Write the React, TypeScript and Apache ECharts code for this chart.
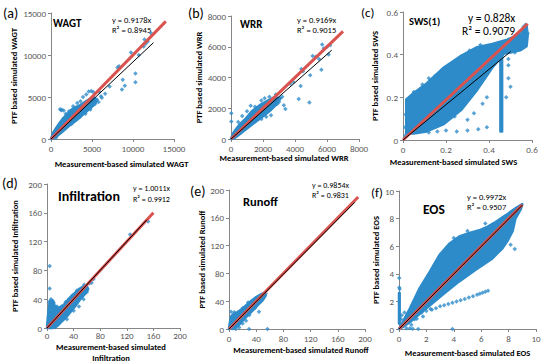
import React, { useEffect, useRef } from "react";
import * as echarts from "echarts";

// ---------- DATA ----------
const panelLetters = ["(a)", "(b)", "(c)", "(d)", "(e)", "(f)"];
const panelTitles = ["WAGT", "WRR", "SWS(1)", "Infiltration", "Runoff", "EOS"];
const eqTexts = ["y = 0.9178x", "y = 0.9169x", "y = 0.828x", "y = 1.0011x", "y = 0.9854x", "y = 0.9972x"];
const r2Texts = ["R² = 0.8945", "R² = 0.9015", "R² = 0.9079", "R² = 0.9912", "R² = 0.9831", "R² = 0.9507"];
const xNames = [
  "Measurement-based simulated WAGT",
  "Measurement-based simulated WRR",
  "Measurement-based simulated SWS",
  "Measurement-based simulated\nInfiltration",
  "Measurement-based simulated Runoff",
  "Measurement-based simulated EOS",
];
const yNames = [
  "PTF based simulated WAGT",
  "PTF based simulated WRR",
  "PTF based simulated SWS",
  "PTF based simulated Infiltration",
  "PTF based simulated Runoff",
  "PTF based simulated EOS",
];
const axisMax = [15000, 8000, 0.6, 200, 200, 10];
const axisInterval = [5000, 2000, 0.2, 40, 40, 2];

// 1:1 (red) and fitted (black) lines, end points
const redLines = [
  [[0, 0], [14000, 14000]],
  [[0, 0], [7000, 7000]],
  [[0, 0], [0.58, 0.545]],
  [[0, 0], [160, 160]],
  [[0, 0], [190, 190]],
  [[0, 0], [9, 9]],
];
const blackLines = [
  [[0, 0], [12500, 11470]],
  [[0, 0], [6300, 5780]],
  [[0, 0], [0.5, 0.414]],
  [[0, 0], [150, 150.2]],
  [[0, 0], [185, 182.3]],
  [[0, 0], [9, 8.97]],
];

// dense point clouds, outlined
const wagtCloud = [[0, 0], [300, 800], [900, 1700], [1500, 2500], [2000, 3000], [2500, 3500], [3000, 3800], [3500, 4000], [4000, 4300], [4600, 4700], [5200, 5000], [5600, 4600], [5200, 4000], [4600, 3500], [4000, 3000], [3200, 2300], [2500, 1800], [1800, 1200], [1200, 700], [600, 250]];
const wrrCloud = [[0, 0], [150, 400], [500, 900], [900, 1300], [1300, 1800], [1800, 2200], [2300, 2500], [2700, 2700], [3100, 2650], [2800, 2200], [2400, 1800], [1900, 1400], [1400, 1000], [900, 600], [400, 200], [150, 20]];
const swsCloud = [[0.015, 0.03], [0.015, 0.19], [0.05, 0.22], [0.11, 0.265], [0.19, 0.34], [0.27, 0.395], [0.345, 0.435], [0.415, 0.45], [0.485, 0.47], [0.55, 0.5], [0.575, 0.535], [0.58, 0.49], [0.575, 0.44], [0.545, 0.42], [0.5, 0.41], [0.47, 0.405], [0.42, 0.345], [0.345, 0.235], [0.27, 0.14], [0.19, 0.075], [0.11, 0.04], [0.05, 0.03]];
const swsStrip = [[0.453, 0.39], [0.453, 0.04], [0.461, 0.04], [0.461, 0.4]];
const infCloud = [[0, 0], [1, 12], [3, 30], [5, 38], [9, 38], [12, 30], [18, 28], [25, 32], [32, 40], [40, 47], [48, 54], [55, 58], [60, 58], [62, 54], [58, 48], [50, 40], [42, 30], [35, 22], [28, 14], [20, 7], [14, 2], [8, 0]];
const runCloud = [[0, 0], [1, 8], [3, 18], [7, 22], [12, 24], [18, 28], [25, 34], [32, 40], [40, 46], [47, 50], [52, 52], [54, 48], [50, 42], [43, 35], [36, 28], [28, 20], [20, 12], [14, 5], [8, 1]];
const eosCloud = [[0, 0], [0.3, 0.55], [0.8, 1.5], [1.5, 2.95], [2.25, 4.15], [2.95, 5.35], [3.7, 6.2], [4.4, 6.7], [5.1, 6.95], [5.85, 7.15], [6.45, 7.4], [7.05, 7.75], [7.8, 8.25], [8.5, 8.75], [9, 9.05], [8.9, 8.7], [8.5, 8.0], [8.3, 7.1], [7.9, 6.35], [7.55, 5.85], [6.8, 5.1], [5.6, 4.3], [4.4, 3.45], [3.2, 2.5], [2.0, 1.5], [0.8, 0.5], [0.3, 0.15]];
const eosColumn = [[0, 0.4], [0, 2.6], [0.05, 2.6], [0.05, 0.4]];

// scattered points
const wagtPts = [[1100, 3550], [1300, 3480], [1550, 3380], [1250, 3420], [4600, 5650], [4900, 5700], [5150, 5600], [4300, 5300], [3900, 5000], [9750, 10300], [10700, 10000], [11300, 11000], [11550, 11350], [11400, 11850], [12200, 12600], [11800, 11600], [8300, 8650], [8100, 8500], [10300, 7800], [10300, 6750], [8750, 7050], [9000, 6350], [8650, 5900], [7150, 6250], [6600, 5400], [6100, 5100], [5900, 5600], [5600, 4700], [6200, 4900], [5400, 4200], [5800, 4400], [500, 300], [800, 1300], [300, 600], [1800, 3000], [2200, 3300], [2700, 3900], [3200, 4300], [3600, 4500], [2500, 1800], [3500, 2600], [4200, 3000], [4800, 3500], [600, 150]];
const wrrPts = [[20, 1680], [20, 1140], [1230, 2160], [700, 1500], [450, 1100], [1000, 1800], [1500, 2100], [1900, 2500], [2100, 2650], [2400, 2750], [2800, 2900], [3050, 2650], [3200, 2750], [2900, 2300], [3000, 2400], [3400, 1950], [2500, 1550], [1500, 1200], [1900, 1300], [2200, 1450], [3300, 2200], [3700, 3600], [3900, 3700], [4400, 4550], [4350, 3450], [4230, 2600], [4900, 2370], [4950, 4150], [5650, 4500], [5100, 5400], [5300, 5350], [5700, 6150], [6000, 6000], [6200, 6100], [5800, 5900], [6100, 5500], [5500, 5200], [4500, 4400]];
const swsPts = [[0.12, 0.29], [0.15, 0.3], [0.18, 0.32], [0.09, 0.26], [0.05, 0.225], [0.27, 0.39], [0.31, 0.42], [0.36, 0.445], [0.22, 0.35], [0.25, 0.37], [0.04, 0.2], [0.24, 0.11], [0.3, 0.095], [0.33, 0.125], [0.37, 0.17], [0.39, 0.2], [0.2, 0.045], [0.25, 0.04], [0.3, 0.045], [0.35, 0.05], [0.39, 0.06], [0.12, 0.035], [0.16, 0.04], [0.49, 0.38], [0.49, 0.35], [0.49, 0.29], [0.5, 0.25], [0.48, 0.2], [0.52, 0.41], [0.55, 0.43], [0.57, 0.54], [0.58, 0.5], [0.56, 0.53], [0.01, 0.02], [0.01, 0.06], [0.012, 0.12]];
const infPts = [[4, 86], [4, 55], [6, 40], [3, 36], [8, 38], [10, 35], [125, 130], [152, 148], [67, 63], [70, 68], [64, 62], [56, 60], [45, 52], [38, 45], [28, 36], [22, 30], [15, 30], [30, 12], [40, 24], [48, 30], [55, 40], [60, 50], [5, 1], [12, 1], [16, 4], [2, 8]];
const runPts = [[29.5, 0], [56.5, 0], [44, 25], [35, 37], [47, 40], [54, 51], [50, 50], [5, 1], [10, 0], [15, 2], [3, 25], [8, 24], [20, 30], [28, 38], [38, 30], [20, 8], [25, 12], [42, 44], [30, 20]];
const eosPts = [[0.55, 0.05], [0.8, 0.05], [1.0, 0.02], [1.4, 0], [3.9, 0], [1.15, 0.7], [1.75, 0.9], [1.3, 0.75], [0.9, 0.3], [8.15, 6.1], [8.45, 5.8], [6.85, 7.55], [6.3, 7.65], [3.5, 5.9], [2.6, 4.6], [0.2, 1.0], [0.15, 0.7], [0.4, 1.2], [2.3, 1.45], [5.0, 7.1], [4.0, 6.6], [1.65, 1.2], [2.0, 1.3], [2.4, 1.4], [2.7, 1.5], [0.02, 3.7], [0.02, 3.0], [0.05, 2.9],
  [3.0, 1.65], [3.3, 1.72], [3.6, 1.82], [3.9, 1.9], [4.2, 2.0], [4.5, 2.08], [4.8, 2.18], [5.1, 2.28], [5.4, 2.38], [5.7, 2.48], [5.9, 2.56], [6.1, 2.62], [6.3, 2.7], [6.5, 2.78]];

const clouds = [[wagtCloud], [wrrCloud], [swsCloud, swsStrip], [infCloud], [runCloud], [eosCloud, eosColumn]];
const points = [wagtPts, wrrPts, swsPts, infPts, runPts, eosPts];

// ---------- LAYOUT / STYLE ----------
const FONT = "Carlito, Lato, 'Liberation Sans', sans-serif";
const BLUE = "#2e8bc9";
const RED = "#d9534f";

const grids = [
  { left: 51, top: 13, width: 123, height: 126 },
  { left: 231, top: 16, width: 128, height: 123 },
  { left: 403, top: 12, width: 129, height: 128 },
  { left: 47, top: 184, width: 133, height: 144 },
  { left: 229, top: 190, width: 136, height: 139 },
  { left: 399, top: 191, width: 137, height: 138 },
];
const xNameGap = [20, 12, 17, 7, 16, 19];
const xNameShift = [18, -22, -28, 0, 8, 0];
const xLabelMargin = [5, 5, 5, 3, 5, 5];
const yNameGap = [33, 24, 24, 28, 22, 12];
// panel (d) has a two-line x-axis title, placed as a text block
const twoLineTitlePos = [111, 341];

const letterPos = [[3, 6, 14], [188, 6, 14], [361, 6, 13], [2, 176, 14], [190, 184, 14], [371, 186, 13]];
const titlePos = [[53, 18, 11], [240, 19, 11], [409, 16, 10.5], [58, 189, 14], [243, 195, 12.5], [423, 202, 13.5]];
const eqPos = [[112, 15, 25, 8.5], [297, 15, 25, 8.5], [468, 12, 25, 11.5], [133, 184, 195, 8], [312, 181, 191, 8], [467, 192, 202, 8.5]];

export default function App() {
  const ref = useRef<HTMLDivElement>(null);
  useEffect(() => {
    if (!ref.current) return;
    const chart = echarts.init(ref.current, null, { renderer: "svg" });
    const fmt = (v: number) => String(Math.round(v * 1000) / 1000);

    const xAxis = grids.map((_, i) => ({
      gridIndex: i, type: "value", min: 0, max: axisMax[i], interval: axisInterval[i],
      axisLine: { show: true, lineStyle: { color: "#868686", width: 1 } },
      axisTick: { show: true, length: 3, lineStyle: { color: "#868686" } },
      axisLabel: { fontSize: 9, color: "#595959", margin: xLabelMargin[i], fontFamily: FONT, formatter: fmt },
      splitLine: { show: false },
      name: xNames[i].includes("\n") ? "" : xNames[i], nameLocation: "middle", nameGap: xNameGap[i],
      nameTextStyle: {
        fontWeight: "bold", fontSize: 8.5, color: "#000", fontFamily: FONT, align: "center",
        padding: xNameShift[i] >= 0 ? [0, 0, 0, xNameShift[i]] : [0, -xNameShift[i], 0, 0],
      },
    }));
    const yAxis = grids.map((_, i) => ({
      gridIndex: i, type: "value", min: 0, max: axisMax[i], interval: axisInterval[i],
      axisLine: { show: true, lineStyle: { color: "#868686", width: 1 } },
      axisTick: { show: true, length: 3, lineStyle: { color: "#868686" } },
      axisLabel: { fontSize: 9, color: "#595959", margin: 5, fontFamily: FONT, formatter: fmt },
      splitLine: { show: false },
      name: yNames[i], nameLocation: "middle", nameGap: yNameGap[i], nameRotate: 90,
      nameTextStyle: { fontWeight: "bold", fontSize: 8.5, color: "#000", fontFamily: FONT },
    }));

    const series: any[] = [];
    grids.forEach((_, i) => {
      clouds[i].forEach((poly) => {
        series.push({
          type: "custom", xAxisIndex: i, yAxisIndex: i, z: 1, silent: true,
          data: poly, encode: { x: 0, y: 1 },
          renderItem: (params: any, api: any) => {
            if (params.dataIndex !== 0) return null;
            const pts = poly.map((p) => api.coord(p));
            return {
              type: "polygon", shape: { points: pts },
              style: { fill: BLUE, stroke: BLUE, lineWidth: 2.5, lineJoin: "round" },
            };
          },
        });
      });
      series.push({
        type: "scatter", xAxisIndex: i, yAxisIndex: i, z: 2,
        symbol: "diamond", symbolSize: 4.5, itemStyle: { color: BLUE },
        data: points[i],
      });
      series.push({
        type: "line", xAxisIndex: i, yAxisIndex: i, z: 3, symbol: "none",
        lineStyle: { color: RED, width: 3 }, data: redLines[i],
      });
      series.push({
        type: "line", xAxisIndex: i, yAxisIndex: i, z: 4, symbol: "none",
        lineStyle: { color: "#000", width: 1 }, data: blackLines[i],
      });
    });

    const graphic: any[] = [];
    grids.forEach((_, i) => {
      graphic.push({ type: "text", left: letterPos[i][0], top: letterPos[i][1],
        style: { text: panelLetters[i], font: `${letterPos[i][2]}px ${FONT}`, fill: "#000" } });
      graphic.push({ type: "text", left: titlePos[i][0], top: titlePos[i][1],
        style: { text: panelTitles[i], font: `bold ${titlePos[i][2]}px ${FONT}`, fill: "#000" } });
      graphic.push({ type: "text", left: eqPos[i][0], top: eqPos[i][1],
        style: { text: eqTexts[i], font: `${eqPos[i][3]}px ${FONT}`, fill: "#000" } });
      graphic.push({ type: "text", left: eqPos[i][0] - (i === 2 ? 6 : 0), top: eqPos[i][2],
        style: { text: r2Texts[i], font: `${eqPos[i][3]}px ${FONT}`, fill: "#000" } });
      if (xNames[i].includes("\n")) {
        graphic.push({ type: "text", x: twoLineTitlePos[0], y: twoLineTitlePos[1],
          style: { text: xNames[i], font: `bold 8.5px ${FONT}`, fill: "#000", align: "center",
            verticalAlign: "top", lineHeight: 11 } });
      }
    });

    chart.setOption({
      animation: false,
      backgroundColor: "#fff",
      grid: grids.map((g) => ({ ...g, outerBoundsMode: "none", containLabel: false })),
      xAxis, yAxis, series, graphic,
    });
    return () => chart.dispose();
  }, []);
  return <div ref={ref} style={{ position: "fixed", left: 0, top: 0, width: 550, height: 364 }} />;
}
